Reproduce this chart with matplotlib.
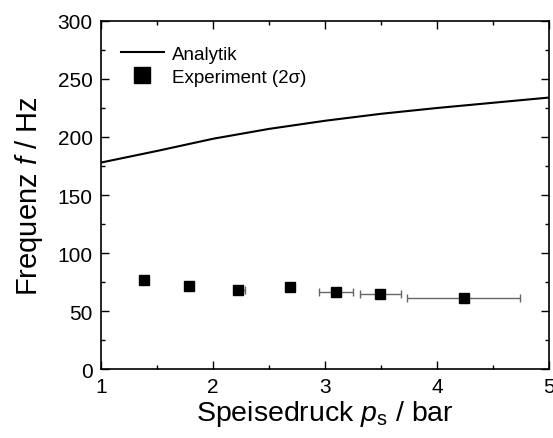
import matplotlib
matplotlib.use("Agg")
import matplotlib.pyplot as plt
from matplotlib.ticker import MultipleLocator

plt.rcParams['font.family'] = ['Liberation Sans', 'DejaVu Sans']
plt.rcParams['mathtext.fontset'] = 'custom'
plt.rcParams['mathtext.rm'] = 'Liberation Sans'
plt.rcParams['mathtext.it'] = 'Liberation Sans:italic'

#Analytic curve
anaX = [1.0, 1.5, 2.0, 2.5, 3.0, 3.5, 4.0, 4.5, 5.0]
anaY = [178, 188, 198.5, 207, 214, 220, 225, 229.5, 234]

#Experiment points with horizontal error (2 sigma)
expX = [1.385, 1.78, 2.22, 2.69, 3.096, 3.49, 4.236]
expY = [77, 72, 68, 70.5, 66, 64.5, 61]
errLo = [0, 0, 0, 0, 0.155, 0.176, 0.505]
errHi = [0, 0, 0.065, 0, 0.152, 0.184, 0.502]

fig = plt.figure(figsize=(5.53, 4.39), dpi=100)
ax = fig.add_axes([0.183, 0.157, 0.810, 0.793])

ax.plot(anaX, anaY, color='black', lw=1.5, label='Analytik')
ax.errorbar(expX, expY, xerr=[errLo, errHi], fmt='none', ecolor='#666666',
            elinewidth=1.0, capsize=3, capthick=1.0)
ax.plot(expX, expY, 's', color='black', ms=7.5, label='Experiment (2σ)', zorder=3)

ax.set_xlim(1, 5)
ax.set_ylim(0, 300)
ax.xaxis.set_major_locator(MultipleLocator(1))
ax.xaxis.set_minor_locator(MultipleLocator(0.5))
ax.yaxis.set_major_locator(MultipleLocator(50))
ax.yaxis.set_minor_locator(MultipleLocator(25))
ax.tick_params(which='both', direction='in', top=True, right=True, labelsize=15, width=1)
ax.tick_params(which='major', length=6, pad=6)
ax.tick_params(which='minor', length=3)
for sp in ax.spines.values():
    sp.set_linewidth(1.2)

ax.set_xlabel('Speisedruck $\\mathit{p}_{\\mathrm{s}}$ / bar', fontsize=20.5, labelpad=1)
ax.set_ylabel('Frequenz $\\mathit{f}$ / Hz', fontsize=21, labelpad=9)

ax.legend(loc='upper left', bbox_to_anchor=(0, 0.985), frameon=False, fontsize=13.5,
          handlelength=2.3, handletextpad=0.4, borderaxespad=0.65, labelspacing=0.3,
          markerscale=1.45)

fig.savefig('out.png', dpi=100)
